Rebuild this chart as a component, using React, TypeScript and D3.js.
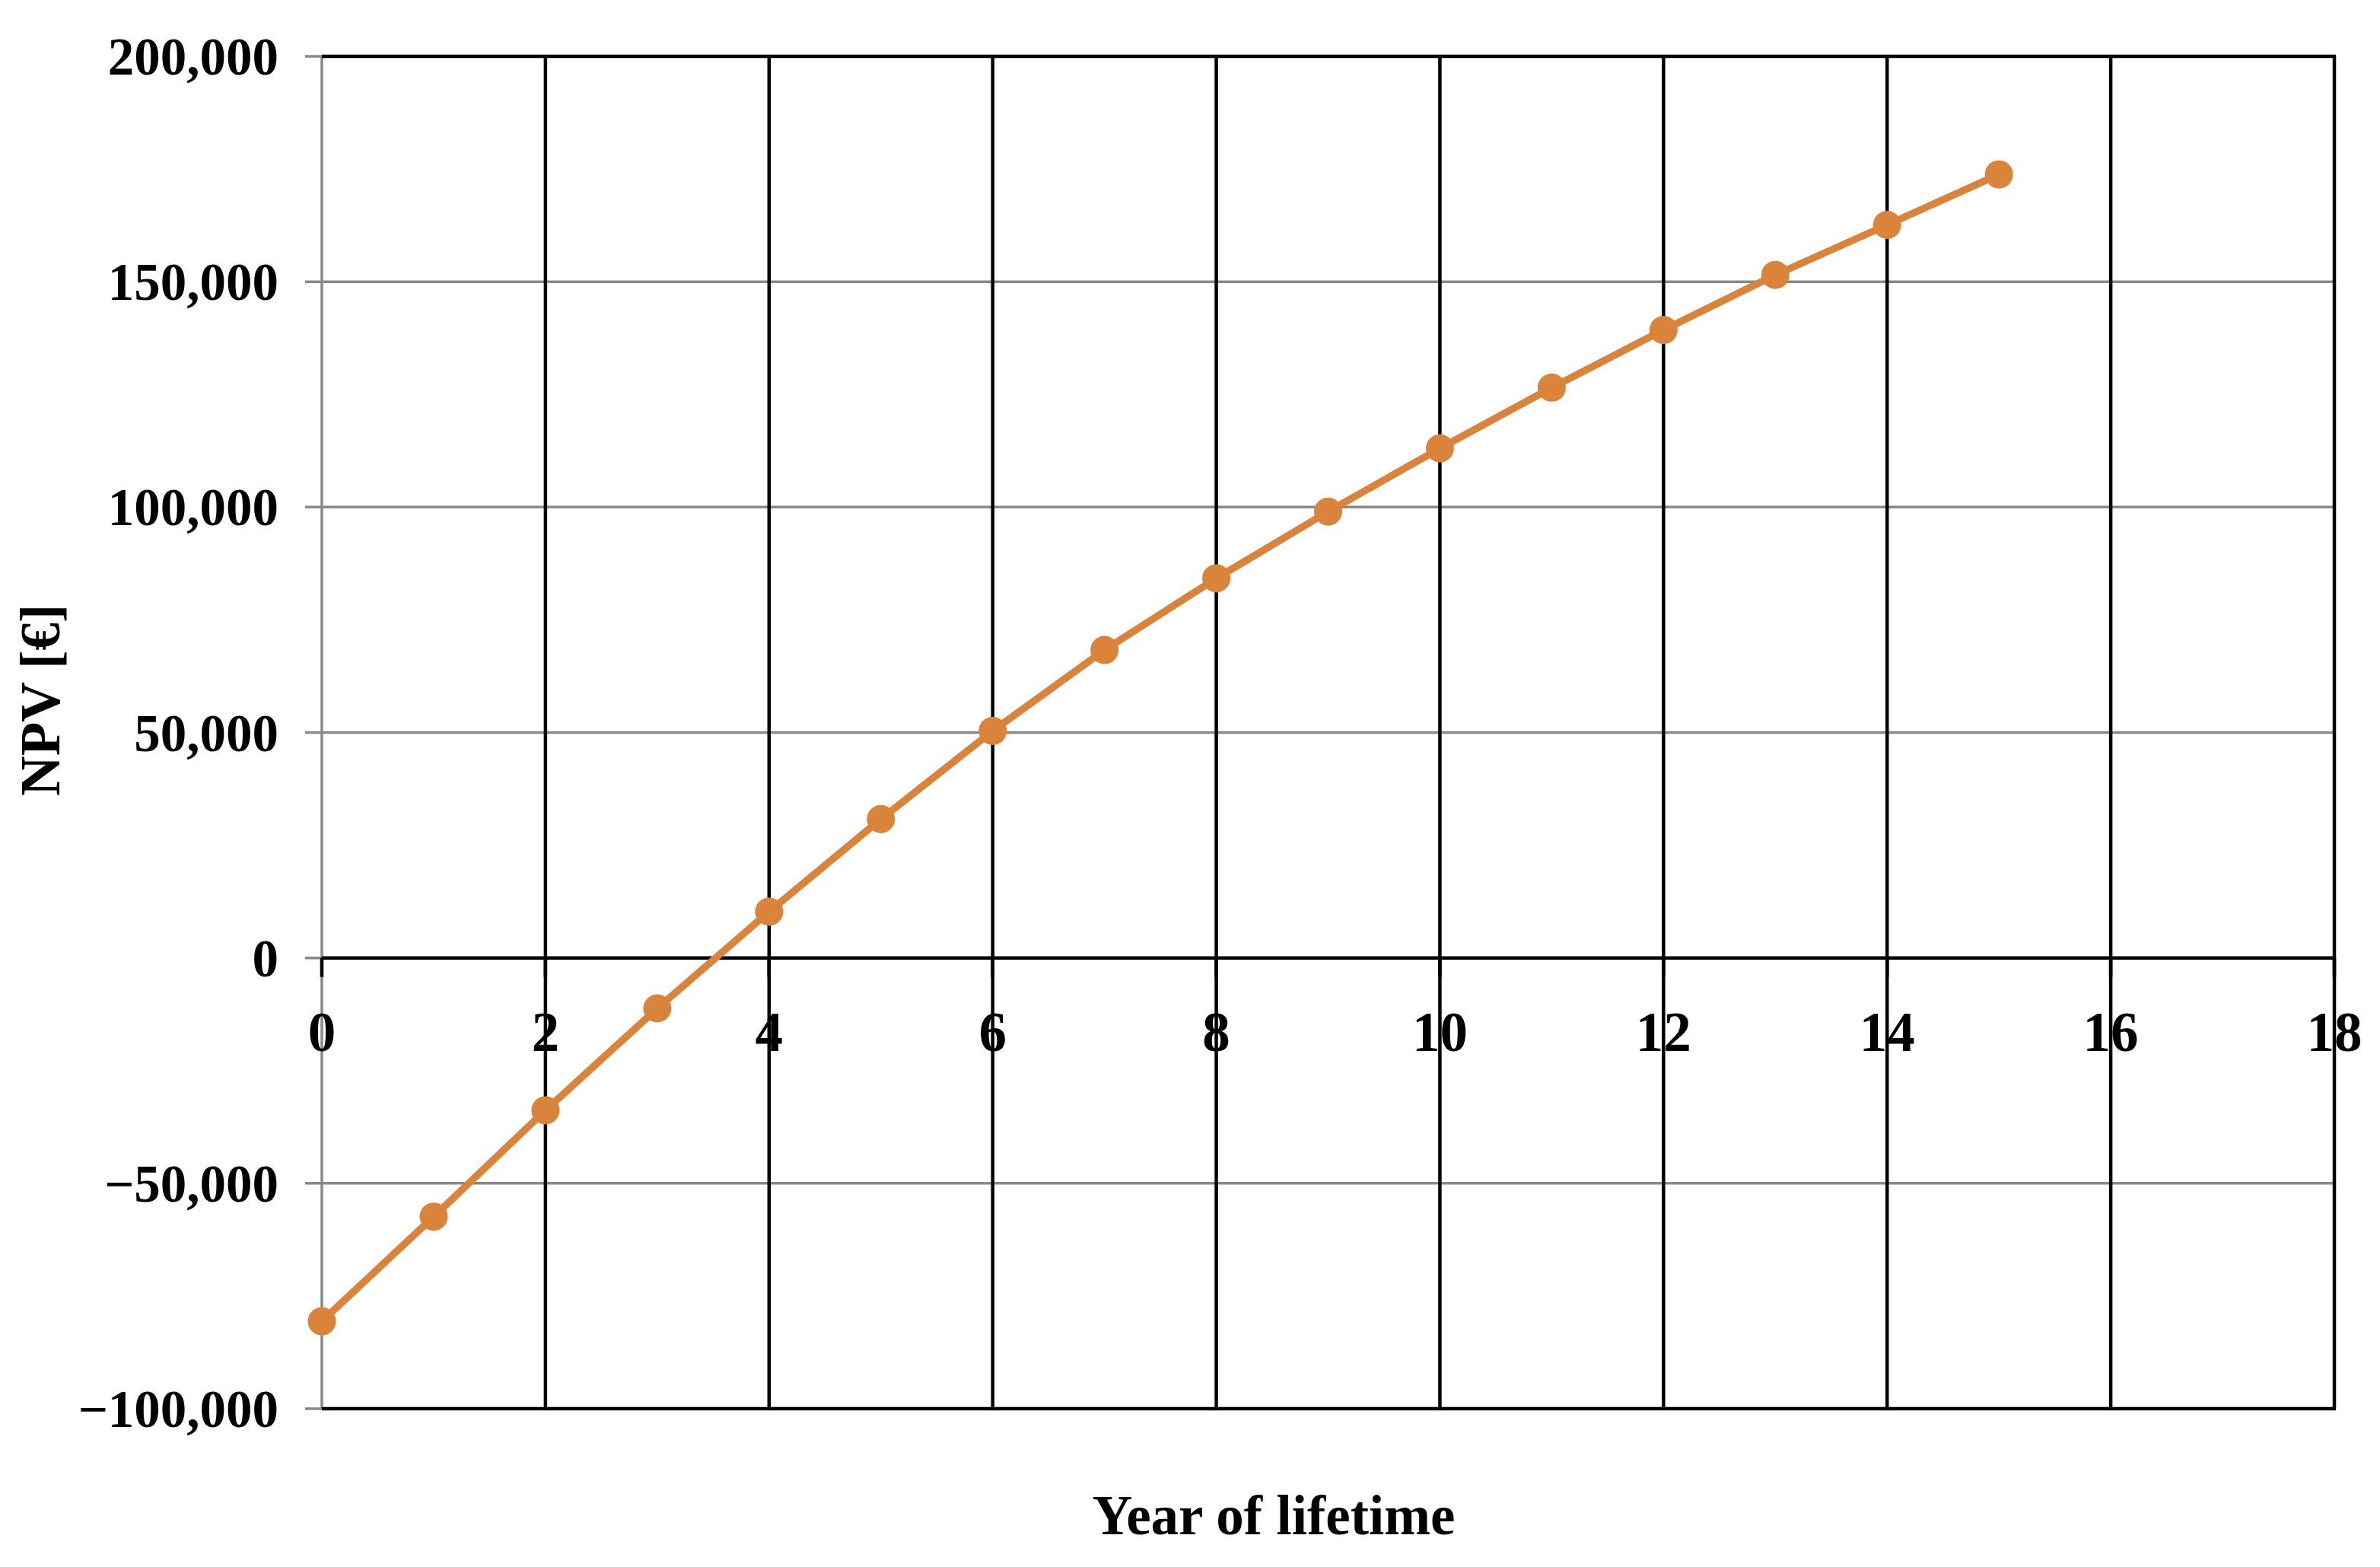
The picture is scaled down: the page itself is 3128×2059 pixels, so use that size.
import React from "react";
import * as d3 from "d3";

const years = [0, 1, 2, 3, 4, 5, 6, 7, 8, 9, 10, 11, 12, 13, 14, 15];
const npv = [
  -80600, -57400, -33800, -11200, 10250, 30800, 50350, 68300, 84200, 99000,
  113050, 126500, 139300, 151500, 162600, 173800,
];
const xTicks = [0, 2, 4, 6, 8, 10, 12, 14, 16, 18];
const yTicks = [-100000, -50000, 0, 50000, 100000, 150000, 200000];
const xTitle = "Year of lifetime";
const yTitle = "NPV [€]";

const W = 3128;
const H = 2059;
const L = 423;
const R = 3068;
const T = 74;
const B = 1851;
const FONT = "'Liberation Serif', 'Times New Roman', serif";
const ORANGE = "#D9833B";
const GREY = "#898989";

export default function App() {
  const x = d3.scaleLinear().domain([0, 18]).range([L, R]);
  const y = d3.scaleLinear().domain([-100000, 200000]).range([B, T]);
  const fmt = d3.format(",");
  const y0 = y(0);
  const line = d3
    .line<number>()
    .x((_, i) => x(years[i]))
    .y((d) => y(d));
  const blackH = new Set([-100000, 0, 200000]);

  return (
    <svg
      width={W}
      height={H}
      style={{ position: "absolute", left: 0, top: 0, background: "#fff" }}
      fontFamily={FONT}
      fontWeight="bold"
    >
      <rect x={0} y={0} width={W} height={H} fill="#fff" />
      {yTicks.map((t) => (
        <line key={"hg" + t} x1={L - 22} x2={R} y1={y(t)} y2={y(t)} stroke={GREY} strokeWidth={3.5} />
      ))}
      <line x1={L} x2={L} y1={T} y2={B} stroke={GREY} strokeWidth={3.5} />
      {xTicks
        .filter((t) => t !== 0)
        .map((t) => (
          <line key={"vg" + t} x1={x(t)} x2={x(t)} y1={T} y2={B} stroke="#000" strokeWidth={4.5} />
        ))}
      {yTicks
        .filter((t) => blackH.has(t))
        .map((t) => (
          <line key={"bh" + t} x1={L} x2={R + 2} y1={y(t)} y2={y(t)} stroke="#000" strokeWidth={4.5} />
        ))}
      {xTicks.map((t) => (
        <line key={"xt" + t} x1={x(t)} x2={x(t)} y1={y0} y2={y0 + 25} stroke="#000" strokeWidth={4.5} />
      ))}
      {yTicks.map((t) => (
        <text key={"yl" + t} x={366} y={y(t) + 24} textAnchor="end" fontSize={69} fill="#000">
          {fmt(t)}
        </text>
      ))}
      {xTicks.map((t) => (
        <text key={"xl" + t} x={x(t)} y={1381} textAnchor="middle" fontSize={73} fill="#000">
          {t}
        </text>
      ))}
      <path d={line(npv) || ""} fill="none" stroke={ORANGE} strokeWidth={9.5} strokeLinejoin="round" />
      {npv.map((v, i) => (
        <circle key={"pt" + i} cx={x(years[i])} cy={y(v)} r={18.5} fill={ORANGE} />
      ))}
      <text x={1674} y={2016} textAnchor="middle" fontSize={73} fill="#000">
        {xTitle}
      </text>
      <text
        transform={`translate(78, 920) rotate(-90)`}
        textAnchor="middle"
        fontSize={73}
        fill="#000"
      >
        {yTitle}
      </text>
    </svg>
  );
}
